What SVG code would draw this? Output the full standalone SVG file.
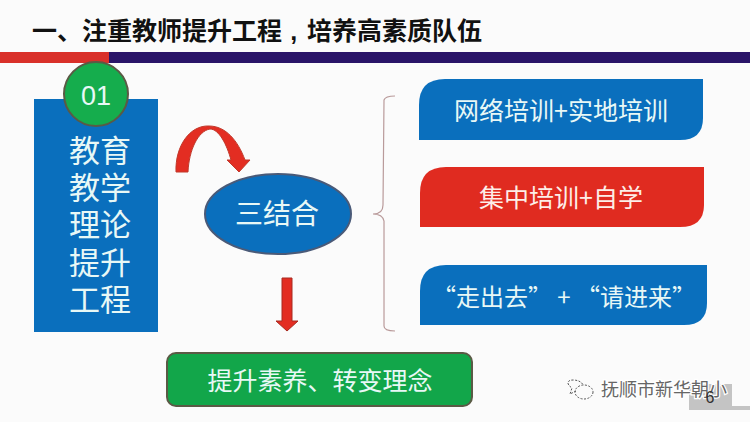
<svg xmlns="http://www.w3.org/2000/svg" width="750" height="422" viewBox="0 0 750 422">
<style>
text{font-family:"Noto Sans CJK SC","Liberation Sans",sans-serif;text-anchor:middle}
.w{fill:#e8f8f6}
.red{fill:#e32d22}
.blue{fill:#0a6fbd}
</style>
<rect width="750" height="422" fill="#fbfbfb"/>
<text id="title" x="257" y="40" font-size="25" font-weight="700" fill="#111" xml:space="preserve">一、注重教师提升工程<tspan style="font-family:'Liberation Sans',sans-serif;letter-spacing:1.4px"> , </tspan>培养高素质队伍</text>
<rect x="0" y="52" width="109" height="11" fill="#d9302a"/>
<rect x="109" y="52" width="641" height="11" fill="#2a1468"/>
<g id="node-theory">
<rect class="blue" x="34" y="99" width="124" height="233"/>
<text class="w" x="100" y="162" font-size="31">教育</text>
<text class="w" x="100" y="199" font-size="31">教学</text>
<text class="w" x="100" y="236" font-size="31">理论</text>
<text class="w" x="100" y="274" font-size="31">提升</text>
<text class="w" x="100" y="311" font-size="31">工程</text>
</g>
<g id="node-01">
<circle cx="96" cy="94" r="32" fill="#15ad4d" stroke="#5a5a45" stroke-width="2"/>
<text class="w" x="96" y="105" font-size="27" style="font-family:'Liberation Sans',sans-serif">01</text>
</g>
<g id="node-three">
<ellipse cx="278" cy="214" rx="73" ry="40" fill="#0a6fbd" stroke="#4a5a78" stroke-width="2"/>
<text class="w" x="277" y="224" font-size="28">三结合</text>
</g>
<g id="connectors">
<path class="red" d="M176 172H188C189 150 198 131 210 129C219 129 227 145 231 160H227L239 172L250 160H245C238 141 226 126 209 126C190 125 175 146 176 172Z" stroke="#c0392b" stroke-width="1"/>
<path class="red" d="M282 278H292V321H298L287 331L276 321H282Z" stroke="#a82a20" stroke-width="1"/>
<path d="M395 96C389 96 385 97 384 100L383 205C383 211 379 214 373 214C379 214 383 216 384 221L384 326C384 330 389 331 395 331" fill="none" stroke="#b99a9a" stroke-width="1.2"/>
</g>
<g id="node-network">
<path class="blue" d="M445 79H703V118Q703 140 680 140H419V105Q419 79 445 79Z"/>
<text class="w" x="561" y="120" font-size="25">网络培训+实地培训</text>
</g>
<g id="node-centralized">
<path d="M446 167H704V205Q704 227 680 227H420V193Q420 167 446 167Z" fill="#e02b20"/>
<text fill="#fdeee8" x="561" y="207" font-size="25">集中培训+自学</text>
</g>
<g id="node-outin">
<path class="blue" d="M446 265H707V303Q707 325 684 325H420V291Q420 265 446 265Z"/>
<text class="w" x="564" y="306" font-size="24">“走出去” + “请进来”</text>
</g>
<g id="node-result">
<rect x="167" y="353" width="305" height="53" rx="9" fill="#12a64a" stroke="#5a5a45" stroke-width="2"/>
<text class="w" x="320" y="390" font-size="25">提升素养、转变理念</text>
</g>
<g id="page-tab">
<path d="M689 384H732V406H750V410H689Z" fill="#c4c4c4"/>
</g>
<g id="watermark">
<g fill="none" stroke="#555" stroke-width="1" stroke-dasharray="2 1.5">
<path d="M576 391L570 394L572 388C566 384 567 380 573 380C578 380 582 382 583 385"/>
<ellipse cx="584" cy="392" rx="9" ry="7"/>
</g>
<text x="664" y="396" font-size="18" fill="#666" stroke="#fff" stroke-width="2.5" paint-order="stroke">抚顺市新华朝小</text>
</g>
<g id="page-number">
<text x="710" y="403" font-size="16" fill="#333" style="font-family:'Liberation Sans',sans-serif">6</text>
</g>
</svg>
